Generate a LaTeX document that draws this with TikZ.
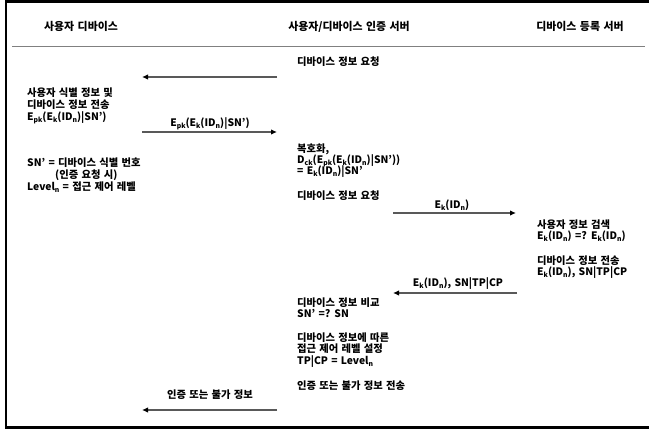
\documentclass[tikz,border=0pt]{standalone}
\usepackage{fontspec}
\setmainfont{Noto Sans CJK KR}[WordSpace=1.4]
\usetikzlibrary{arrows.meta}
\newcommand{\sbs}[1]{\raisebox{-0.22ex}{\fontsize{6.8}{7}\selectfont #1}}
\begin{document}
\begin{tikzpicture}[x=1pt,y=-1pt,
  txt/.style={anchor=base west, inner sep=0pt, font=\fontsize{10.3}{12}\selectfont\bfseries},
  lbl/.style={anchor=base, inner sep=0pt, font=\fontsize{10.3}{12}\selectfont\bfseries},
  hdr/.style={anchor=base, inner sep=0pt, font=\fontsize{10.9}{12}\selectfont\bfseries},
  msg/.style={draw=black!65, line width=1.3pt, -{Latex[length=6pt,width=5.5pt,fill=black,color=black]}},
]
\useasboundingbox (0,0) rectangle (649,430);
% frame
\draw[line width=2.6pt] (649,1.5) -- (6,1.5) -- (6,427.5) -- (649,427.5);
\draw[black!50, line width=1pt] (12,47) -- (645,47);
% headers
\node[hdr] (h1) at (81,31) {사용자 디바이스};
\node[hdr] (h2) at (349,31) {사용자/디바이스 인증 서버};
\node[hdr] (h3) at (580,31) {디바이스 등록 서버};
% left column
\node[txt] (l1) at (27,97) {사용자 식별 정보 및};
\node[txt] (l2) at (27,108.5) {디바이스 정보 전송};
\node[txt] (l3) at (27,121) {E\sbs{pk}(E\sbs{k}(ID\sbs{n})|SN’)};
\node[txt] (l4) at (27,167) {SN’ = 디바이스 식별 번호};
\node[txt] (l5) at (55,179) {(인증 요청 시)};
\node[txt] (l6) at (27,191) {Level\sbs{n} = 접근 제어 레벨};
% middle column
\node[txt] (m1) at (297,66) {디바이스 정보 요청};
\node[txt] (m2) at (297,153) {복호화,};
\node[txt] (m3) at (297,164) {D\sbs{ck}(E\sbs{pk}(E\sbs{k}(ID\sbs{n})|SN’))};
\node[txt] (m4) at (297,175) {= E\sbs{k}(ID\sbs{n})|SN’};
\node[txt] (m5) at (297,200) {디바이스 정보 요청};
\node[txt] (m6) at (297,307) {디바이스 정보 비교};
\node[txt] (m7) at (297,318) {SN’ =? SN};
\node[txt] (m8) at (297,342) {디바이스 정보에 따른};
\node[txt] (m9) at (297,353) {접근 제어 레벨 설정};
\node[txt] (m10) at (297,365) {TP|CP = Level\sbs{n}};
\node[txt] (m11) at (297,390) {인증 또는 불가 정보 전송};
% right column
\node[txt] (r1) at (537,229) {사용자 정보 검색};
\node[txt] (r2) at (537,240) {E\sbs{k}(ID\sbs{n}) =? E\sbs{k}(ID\sbs{n})};
\node[txt] (r3) at (537,265) {디바이스 정보 전송};
\node[txt] (r4) at (537,276) {E\sbs{k}(ID\sbs{n}), SN|TP|CP};
% arrow end points
\coordinate (a1s) at (277,77);  \coordinate (a1e) at (142,77);
\coordinate (a2s) at (142,132); \coordinate (a2e) at (277,132);
\coordinate (a3s) at (393,213); \coordinate (a3e) at (516,213);
\coordinate (a4s) at (517,293); \coordinate (a4e) at (393,293);
\coordinate (a5s) at (277,410); \coordinate (a5e) at (142,410);
\draw[msg] (a1s) -- (a1e);
\draw[msg] (a2s) -- (a2e);
\draw[msg] (a3s) -- (a3e);
\draw[msg] (a4s) -- (a4e);
\draw[msg] (a5s) -- (a5e);
% arrow labels
\node[lbl] (t2) at (210,127) {E\sbs{pk}(E\sbs{k}(ID\sbs{n})|SN’)};
\node[lbl] (t3) at (452,209) {E\sbs{k}(ID\sbs{n})};
\node[lbl] (t4) at (458,287) {E\sbs{k}(ID\sbs{n}), SN|TP|CP};
\node[lbl] (t5) at (210,399) {인증 또는 불가 정보};
\end{tikzpicture}
\end{document}
